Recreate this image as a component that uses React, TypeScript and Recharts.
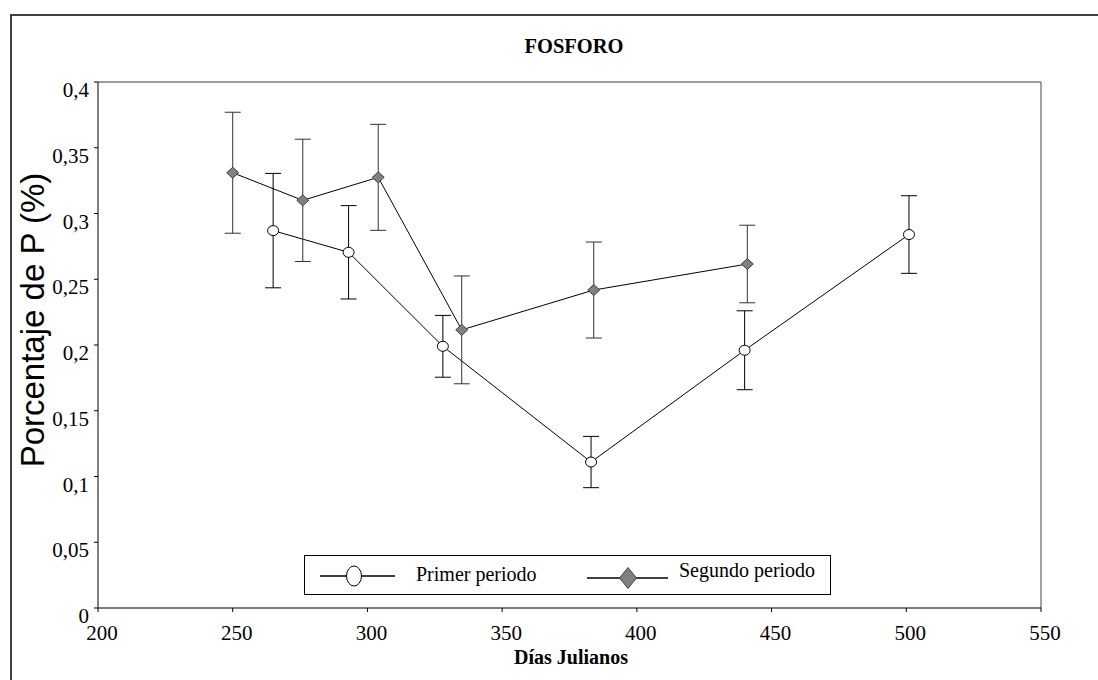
import React from 'react';
import { LineChart, Line, XAxis, YAxis, ErrorBar, ReferenceLine, Legend } from 'recharts';

// Días julianos, % P y desvío
const primerDias = [265, 293, 328, 383, 440, 501];
const primerP = [0.287, 0.2705, 0.199, 0.111, 0.196, 0.284];
const primerErr = [0.0435, 0.0355, 0.0235, 0.0195, 0.03, 0.0295];

const segundoDias = [250, 276, 304, 335, 384, 441];
const segundoP = [0.331, 0.31, 0.3275, 0.2115, 0.2418, 0.2616];
const segundoErr = [0.046, 0.0465, 0.0403, 0.041, 0.0365, 0.0295];

const xTicks = [200, 250, 300, 350, 400, 450, 500, 550];
const yTicks = [0, 0.05, 0.1, 0.15, 0.2, 0.25, 0.3, 0.35, 0.4];

const primer = primerDias.map((x, i) => ({ x, y: primerP[i], err: primerErr[i] }));
const segundo = segundoDias.map((x, i) => ({ x, y: segundoP[i], err: segundoErr[i] }));

const SERIF = '"Liberation Serif", "Times New Roman", serif';
const SANS = '"Liberation Sans", Arial, sans-serif';

const fmt = (v: number) => String(v).replace('.', ',');

function CircleDot(props: any) {
  const { cx, cy } = props;
  if (cx == null || cy == null) return null;
  return <ellipse cx={cx} cy={cy} rx={5.5} ry={5} fill="#fff" stroke="#000" strokeWidth={1} />;
}

function DiamondDot(props: any) {
  const { cx, cy } = props;
  if (cx == null || cy == null) return null;
  return (
    <polygon
      points={`${cx - 6},${cy} ${cx},${cy - 5.5} ${cx + 6},${cy} ${cx},${cy + 5.5}`}
      fill="#808080"
      stroke="#404040"
      strokeWidth={1}
    />
  );
}

function XTick(props: any) {
  const { x, y, payload } = props;
  return (
    <text x={x + 4} y={y + 26} textAnchor="middle" style={{ fontFamily: SERIF }} fontSize={21} fill="#000">
      {payload.value}
    </text>
  );
}

function YTick(props: any) {
  const { x, y, payload } = props;
  return (
    <text x={x - 3} y={y + 15} textAnchor="end" style={{ fontFamily: SERIF }} fontSize={21} fill="#000">
      {fmt(payload.value)}
    </text>
  );
}

function LegendBox() {
  return (
    <svg width={528} height={41} style={{ display: 'block' }}>
      <rect x={0.5} y={0.5} width={526} height={39} fill="#fff" stroke="#000" strokeWidth={1} />
      <line x1={16} y1={21} x2={91} y2={21} stroke="#000" strokeWidth={1.5} />
      <ellipse cx={50} cy={21} rx={7.5} ry={10} fill="#fff" stroke="#000" strokeWidth={1} />
      <text x={112} y={26} style={{ fontFamily: SERIF }} fontSize={20} fill="#000">Primer periodo</text>
      <line x1={283} y1={23} x2={364} y2={23} stroke="#000" strokeWidth={1.5} />
      <polygon points="315.5,23 324,12.5 332.5,23 324,33.5" fill="#808080" stroke="#404040" strokeWidth={1} />
      <text x={375} y={22} style={{ fontFamily: SERIF }} fontSize={20} fill="#000">Segundo periodo</text>
    </svg>
  );
}

export default function App() {
  return (
    <div style={{ position: 'absolute', left: 0, top: 0, width: 1098, height: 680, background: '#fff', overflow: 'hidden' }}>
      <div
        style={{
          position: 'absolute', left: 10, top: 14, width: 1200, height: 800,
          borderLeft: '2px solid #404040', borderTop: '2px solid #404040',
        }}
      />
      <LineChart width={1098} height={680} margin={{ top: 82, right: 57, bottom: 0, left: 0 }}>
        <XAxis
          type="number"
          dataKey="x"
          domain={[200, 550]}
          ticks={xTicks}
          interval={0}
          height={72}
          stroke="#000"
          tickSize={4}
          tick={<XTick />}
          allowDuplicatedCategory={false}
        />
        <YAxis
          type="number"
          domain={[0, 0.4]}
          ticks={yTicks}
          interval={0}
          width={98}
          stroke="#000"
          tickSize={4}
          tick={<YTick />}
        />
        <ReferenceLine y={0.4} stroke="#808080" strokeWidth={1.5} />
        <ReferenceLine x={550} stroke="#808080" strokeWidth={1.5} />
        <Line
          data={primer}
          dataKey="y"
          type="linear"
          stroke="#000"
          strokeWidth={1}
          dot={<CircleDot />}
          activeDot={false}
          isAnimationActive={false}
          legendType="none"
        >
          <ErrorBar dataKey="err" direction="y" width={8} stroke="#000" strokeWidth={1} isAnimationActive={false} />
        </Line>
        <Line
          data={segundo}
          dataKey="y"
          type="linear"
          stroke="#000"
          strokeWidth={1}
          dot={<DiamondDot />}
          activeDot={false}
          isAnimationActive={false}
          legendType="none"
        >
          <ErrorBar dataKey="err" direction="y" width={8} stroke="#333" strokeWidth={1} isAnimationActive={false} />
        </Line>
        <Legend
          verticalAlign="middle"
          align="center"
          content={() => <LegendBox />}
          wrapperStyle={{ position: 'absolute', left: 304, top: 555, width: 528, height: 41 }}
        />
      </LineChart>
      <div
        style={{
          position: 'absolute', left: 474, top: 36, width: 200, textAlign: 'center',
          fontFamily: SERIF, fontWeight: 'bold', fontSize: 20.5, lineHeight: '20px', color: '#000',
        }}
      >
        FOSFORO
      </div>
      <div
        style={{
          position: 'absolute', left: 471, top: 647, width: 200, textAlign: 'center',
          fontFamily: SERIF, fontWeight: 'bold', fontSize: 20, lineHeight: '20px', color: '#000',
        }}
      >
        Días Julianos
      </div>
      <div
        style={{
          position: 'absolute', left: 33, top: 320, transform: 'translate(-50%, -50%) rotate(-90deg)',
          whiteSpace: 'nowrap', fontFamily: SANS, fontSize: 33, lineHeight: '34px', color: '#000',
        }}
      >
        Porcentaje de P (%)
      </div>
    </div>
  );
}
